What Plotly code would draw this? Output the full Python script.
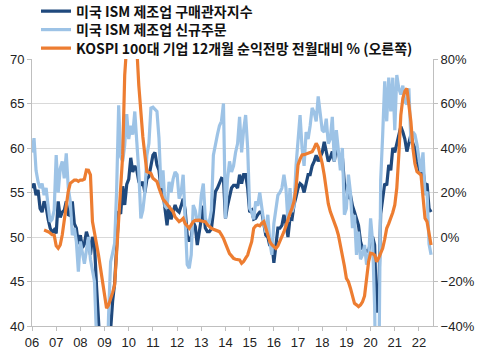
import plotly.graph_objects as go

# ISM manufacturing PMI (monthly, Jan 2006 - Jul 2022)
ism_pmi = [
    55.5, 56.0, 54.7, 55.3, 53.2, 52.8, 54.0, 53.4, 52.0, 51.0, 50.5, 50.8,  # 2006
    50.4, 54.0, 52.2, 52.8, 53.0, 54.0, 52.5, 52.4, 54.0, 51.5, 51.0, 49.2,  # 2007
    50.2, 48.8, 49.2, 50.6, 49.8, 48.0, 50.0, 49.2, 44.5, 38.9, 36.2, 32.9,  # 2008
    35.6, 35.8, 36.3, 40.1, 42.8, 44.8, 48.9, 52.9, 52.6, 55.7, 53.6, 55.9,  # 2009
    56.5, 58.9, 57.3, 58.0, 57.5, 56.2, 55.8, 56.2, 55.0, 56.5, 56.8, 58.1,  # 2010
    59.2, 59.5, 58.1, 57.5, 55.5, 55.0, 52.8, 51.3, 53.5, 52.0, 52.8, 53.6,  # 2011
    53.0, 52.8, 53.5, 54.3, 53.0, 50.2, 49.5, 50.0, 51.7, 51.2, 49.1, 50.6,  # 2012
    52.0, 53.5, 51.0, 50.6, 50.6, 50.9, 52.8, 55.1, 55.5, 56.0, 56.6, 56.5,  # 2013
    52.1, 53.5, 54.5, 55.5, 55.8, 55.8, 55.5, 57.0, 56.0, 57.0, 57.0, 55.5,  # 2014
    52.8, 53.0, 52.0, 52.1, 52.5, 52.8, 52.8, 51.5, 50.2, 50.0, 49.0, 49.5,  # 2015
    47.1, 49.0, 51.0, 51.0, 51.3, 52.5, 51.5, 50.0, 52.1, 52.0, 53.6, 54.5,  # 2016
    55.5, 56.0, 55.8, 55.0, 56.0, 57.0, 57.0, 58.0, 58.5, 59.2, 58.5, 59.0,  # 2017
    59.5, 60.7, 59.6, 58.5, 58.9, 59.6, 58.5, 60.0, 59.5, 58.5, 59.0, 56.0,  # 2018
    55.5, 54.3, 54.7, 53.5, 52.8, 52.0, 51.3, 49.5, 48.7, 48.6, 48.4, 48.4,  # 2019
    49.5, 50.0, 49.1, 41.5, 43.1, 52.6, 54.3, 56.0, 55.8, 58.1, 57.5, 60.0,  # 2020
    59.5, 60.5, 61.1, 62.4, 61.8, 61.0, 59.6, 60.5, 61.5, 60.5, 60.0, 58.5,  # 2021
    57.7, 57.0, 57.5, 55.8, 56.0, 53.2, 52.8,                                # 2022
]

# ISM new orders (monthly, Jan 2006 - Jul 2022)
ism_new_orders = [
    59.5, 61.1, 57.5, 56.2, 55.5, 56.0, 54.7, 55.5, 53.5, 51.7, 52.0, 53.0,  # 2006
    59.2, 55.0, 57.7, 58.5, 56.6, 59.4, 55.5, 54.0, 50.2, 51.0, 49.5, 46.1,  # 2007
    49.5, 48.0, 47.0, 48.5, 50.0, 47.5, 46.0, 45.0, 38.8, 30.0, 27.6, 22.7,  # 2008
    32.7, 33.1, 41.2, 47.2, 48.2, 49.3, 55.3, 64.8, 59.0, 58.5, 60.3, 63.8,  # 2009
    61.0, 62.5, 61.5, 64.1, 60.7, 57.3, 52.1, 53.0, 55.0, 59.2, 60.5, 64.5,  # 2010
    64.6, 64.3, 64.1, 61.1, 55.5, 57.5, 53.5, 53.2, 56.2, 55.0, 56.5, 57.3,  # 2011
    57.0, 54.3, 55.0, 57.0, 52.5, 46.9, 46.5, 48.0, 53.6, 53.0, 51.7, 52.0,  # 2012
    54.7, 56.0, 52.1, 51.5, 51.7, 53.0, 59.2, 60.5, 61.5, 62.5, 63.0, 65.0,  # 2013
    52.1, 56.5, 58.5, 57.3, 58.0, 59.5, 60.5, 63.5, 59.5, 62.0, 63.7, 60.0,  # 2014
    53.2, 52.8, 52.0, 54.0, 53.5, 55.0, 53.0, 51.7, 50.5, 52.5, 49.5, 48.0,  # 2015
    51.5, 53.0, 54.7, 55.0, 55.5, 57.0, 55.5, 51.7, 55.5, 52.8, 53.5, 58.0,  # 2016
    60.5, 63.7, 60.0, 58.0, 61.8, 61.0, 62.5, 64.5, 64.0, 63.0, 65.8, 63.7,  # 2017
    62.0, 61.8, 63.3, 60.5, 61.0, 63.5, 58.5, 62.0, 60.0, 57.5, 60.0, 52.5,  # 2018
    53.2, 57.0, 55.0, 51.0, 52.5, 48.0, 50.6, 47.5, 48.0, 49.1, 46.9, 47.5,  # 2019
    52.1, 49.5, 42.2, 27.1, 31.8, 56.4, 61.5, 67.5, 63.0, 67.9, 64.1, 67.9,  # 2020
    62.0, 68.2, 66.7, 66.0, 67.0, 65.2, 64.9, 66.7, 60.7, 61.8, 61.5, 60.4,  # 2021
    58.8, 57.3, 59.5, 54.7, 55.1, 49.2, 48.0,                                # 2022
]

# KOSPI 100 12M forward earnings, MoM % (monthly, Jul 2006 - Jul 2022)
kospi_eps_mom = [
    3.1, 2.8, 2.4, 1.8, 1.0, 0.9,                                            # 2006 H2
    -4.0, -5.1, -3.6, 0.9, 8.0, 15.9, 20.5, 24.1, 25.0, 25.6, 25.6, 25.0,    # 2007
    25.6, 25.6, 26.0, 30.1, 30.0, 27.9, 6.9, 2.0, -2.1, -8.1, -14.0, -20.1,  # 2008
    -27.0, -32.0, -30.6, -28.0, -25.0, -21.6, -8.0, 5.0, 20.0, 36.9, 72.8, 92.0,  # 2009
    100.0, 105.0, 103.0, 97.0, 85.0, 68.0, 54.8, 45.0, 36.9, 29.4, 29.0, 28.6,  # 2010
    26.4, 25.5, 24.9, 22.0, 18.9, 17.0, 15.9, 14.5, 13.6, 12.5, 11.4, 9.0,   # 2011
    8.0, 6.9, 7.5, 8.4, 6.0, 5.0, 3.9, 5.5, 6.9, 7.5, 7.6, 7.6,              # 2012
    7.2, 7.0, 6.9, 5.5, 4.5, 3.9, 3.5, 3.1, 2.8, 2.4, 1.0, -0.6,             # 2013
    -3.0, -5.1, -7.5, -8.5, -9.6, -10.0, -10.2, -10.3, -11.8, -11.0, -9.5, -8.1,  # 2014
    -5.0, -2.1, 3.9, 5.0, 5.4, 5.0, 6.2, 6.9, 4.0, 0.9, -2.1, -3.5,          # 2015
    -4.5, -5.1, -4.0, -2.1, 0.0, 2.4, 5.0, 8.4, 10.6, 12.9, 16.0, 21.9,      # 2016
    32.4, 35.0, 36.9, 37.0, 37.3, 37.6, 37.8, 38.3, 40.0, 42.1, 40.5, 36.9,  # 2017
    33.0, 27.9, 20.0, 15.0, 11.4, 9.0, 6.9, 4.0, 0.9, -3.5, -8.1, -13.0,     # 2018
    -18.6, -20.1, -23.0, -26.1, -29.8, -30.5, -31.3, -30.5, -29.1, -26.5, -20.0, -11.1,  # 2019
    -7.3, -7.5, -8.1, -11.1, -9.5, -7.0, -5.1, -1.0, 3.9, 6.0, 8.4, 11.0,    # 2020
    14.4, 22.0, 36.9, 54.8, 62.3, 65.5, 66.8, 60.0, 51.8, 39.9, 33.0, 29.4,  # 2021
    28.5, 27.9, 18.0, 8.4, 6.9, 2.0, -3.6,                                   # 2022
]

year_ticks = list(range(2006, 2023))
year_labels = [f"{y % 100:02d}" for y in year_ticks]

x_ism = [2006 + i / 12 for i in range(len(ism_pmi))]
x_kospi = [2006.5 + i / 12 for i in range(len(kospi_eps_mom))]

fig = go.Figure()
fig.add_trace(go.Scatter(x=x_ism, y=ism_pmi, mode="lines", name="미국 ISM 제조업 구매관자지수",
                         legend="legend",
                         line=dict(color="#1F497D", width=3.2)))
fig.add_trace(go.Scatter(x=x_ism, y=ism_new_orders, mode="lines", name="미국 ISM 제조업 신규주문",
                         legend="legend2",
                         line=dict(color="#9DC3E6", width=3.2)))
fig.add_trace(go.Scatter(x=x_kospi, y=kospi_eps_mom, mode="lines", yaxis="y2",
                         name="KOSPI 100대 기업 12개월 순익전망 전월대비 % (오른쪽)",
                         legend="legend3",
                         line=dict(color="#ED7D31", width=3.2)))

tick_font = dict(family="Liberation Sans, Arial, sans-serif", size=13, color="#222222")
H = 357.0


def legend_at(row_y):
    return dict(xref="container", yref="container", x=36 / 480, y=1 - row_y / H,
                xanchor="left", yanchor="middle", bgcolor="rgba(0,0,0,0)",
                font=dict(family="Noto Sans CJK KR", size=14, color="#111111", weight="bold"),
                itemwidth=30)


fig.update_layout(
    width=480, height=357,
    margin=dict(l=32, r=47, t=59, b=31, autoexpand=False),
    paper_bgcolor="white", plot_bgcolor="white",
    showlegend=True,
    legend=legend_at(11.5),
    legend2=legend_at(30),
    legend3=legend_at(48.5),
    xaxis=dict(range=[2006, 2022.58], tickvals=year_ticks, ticktext=year_labels,
               showgrid=False, zeroline=False, showline=True, linecolor="#BFBFBF", linewidth=1,
               ticks="outside", ticklen=4, tickcolor="#BFBFBF", tickfont=tick_font),
    yaxis=dict(range=[40, 70], dtick=5, showgrid=True, gridcolor="#D9D9D9", gridwidth=1,
               zeroline=False, showline=True, linecolor="#BFBFBF", linewidth=1,
               ticks="outside", ticklen=4, tickcolor="#BFBFBF", tickfont=tick_font),
    yaxis2=dict(range=[-40, 80], dtick=20, overlaying="y", side="right", showgrid=False,
                zeroline=False, showline=True, linecolor="#BFBFBF", linewidth=1,
                ticks="outside", ticklen=4, tickcolor="#BFBFBF", ticksuffix="%",
                tickfont=tick_font),
)

fig.write_html("out.html", config={"displayModeBar": False},
               post_script="document.body.style.margin='0';")
